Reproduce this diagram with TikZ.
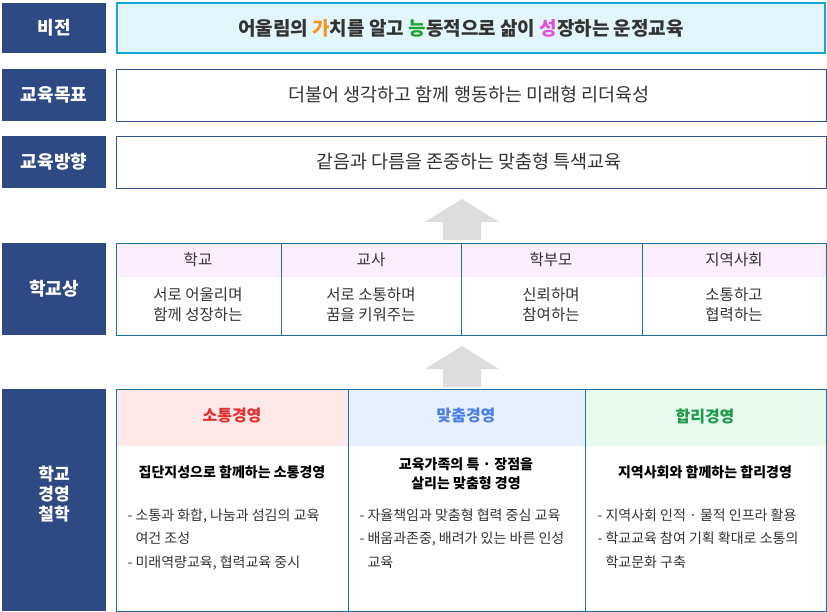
\documentclass[tikz,border=0pt]{standalone}
\usepackage{fontspec}
\setmainfont{Noto Sans CJK KR}
\definecolor{navy}{HTML}{2E4A85}
\definecolor{cyanb}{HTML}{1AA6D8}
\definecolor{cyanf}{HTML}{E4F6FD}
\definecolor{boxb}{HTML}{34508C}
\definecolor{pinkh}{HTML}{FCEEFC}
\definecolor{redh}{HTML}{FDE8E8}
\definecolor{blueh}{HTML}{E8F0FC}
\definecolor{greenh}{HTML}{E8FBEE}
\definecolor{redt}{HTML}{E03030}
\definecolor{bluet}{HTML}{4A7EE8}
\definecolor{greent}{HTML}{1F9A4A}
\definecolor{arr}{HTML}{DDDDDD}
\definecolor{txt}{HTML}{333333}
\definecolor{lineb}{HTML}{1E6FA8}
\begin{document}
\begin{tikzpicture}[x=1pt,y=-1pt,
  lab/.style={fill=navy,text=white,font=\bfseries\fontsize{18}{20}\selectfont,align=center,inner sep=0pt},
  big/.style={font=\fontsize{18.5}{21}\selectfont,text=txt},
  hd/.style={font=\fontsize{15.5}{18}\selectfont,text=txt},
  bd/.style={font=\fontsize{15.5}{20}\selectfont,text=txt,align=center},
  sb/.style={font=\bfseries\fontsize{14}{19}\selectfont,text=black,align=center},
  bl/.style={font=\fontsize{14}{23.5}\selectfont,text=txt,align=left,anchor=north west}]
\useasboundingbox (0,0) rectangle (827,612);
% left labels
\fill[navy] (2,3) rectangle (106,53); \node[lab] (l1) at (54,28) {비전};
\fill[navy] (2,69) rectangle (106,121); \node[lab] (l2) at (54,95) {교육목표};
\fill[navy] (2,136) rectangle (106,188); \node[lab] (l3) at (54,162) {교육방향};
\fill[navy] (2,243) rectangle (106,335); \node[lab] (l4) at (54,289) {학교상};
\fill[navy] (2,389) rectangle (106,611); \node[lab,font=\bfseries\fontsize{17}{20}\selectfont] (l5) at (54,494) {학교\\경영\\철학};
% vision
\draw[cyanb,line width=2pt,fill=cyanf] (117,3) rectangle (825,53);
\node[font=\bfseries\fontsize{19}{21}\selectfont,text=txt] (v) at (461,28) {어울림의 \textcolor[HTML]{F7941D}{가}치를 알고 \textcolor[HTML]{1FA22E}{능}동적으로 삶이 \textcolor[HTML]{E24FE0}{성}장하는 운정교육};
\draw[boxb] (116,69) rectangle (826,121); \node[big] (g) at (469,95) {더불어 생각하고 함께 행동하는 미래형 리더육성};
\draw[boxb] (116,136) rectangle (826,188); \node[big] (d) at (469,162) {같음과 다름을 존중하는 맞춤형 특색교육};
% arrows
\fill[arr] (443,240) -- (443,222) -- (425,222) -- (462,199) -- (499,222) -- (481,222) -- (481,240) -- cycle;
\fill[arr] (443,387) -- (443,369) -- (425,369) -- (462,346) -- (499,369) -- (481,369) -- (481,387) -- cycle;
% school image
\fill[pinkh] (116,243) rectangle (826,277);
\draw[lineb] (116,243) rectangle (826,335);
\foreach \x in {281,461,642} \draw[lineb] (\x,243) -- (\x,335);
\node[hd] (h1) at (198,260) {학교};
\node[hd] (h2) at (371,260) {교사};
\node[hd] (h3) at (551,260) {학부모};
\node[hd] (h4) at (734,260) {지역사회};
\node[bd] (b1) at (198,305) {서로 어울리며\\함께 성장하는};
\node[bd] (b2) at (371,305) {서로 소통하며\\꿈을 키워주는};
\node[bd] (b3) at (551,305) {신뢰하며\\참여하는};
\node[bd] (b4) at (734,305) {소통하고\\협력하는};
% philosophy
\fill[redh] (116,389) rectangle (348,446);
\fill[blueh] (348,389) rectangle (585,446);
\fill[greenh] (585,389) rectangle (826,446);
\draw[lineb] (116,389) rectangle (826,611);
\foreach \x in {348,585} \draw[lineb] (\x,389) -- (\x,611);
\node[font=\bfseries\fontsize{16}{18}\selectfont,text=redt] (p1) at (232,416) {소통경영};
\node[font=\bfseries\fontsize{16}{18}\selectfont,text=bluet] (p2) at (466,416) {맞춤경영};
\node[font=\bfseries\fontsize{16}{18}\selectfont,text=greent] (p3) at (705,416) {합리경영};
\node[sb] (s1) at (232,472) {집단지성으로 함께하는 소통경영};
\node[sb] (s2) at (466,474) {교육가족의 특 · 장점을\\살리는 맞춤형 경영};
\node[sb] (s3) at (705,472) {지역사회와 함께하는 합리경영};
\node[bl] (t1) at (124,505) {- 소통과 화합, 나눔과 섬김의 교육\\\hphantom{- }여건 조성\\- 미래역량교육, 협력교육 중시};
\node[bl] (t2) at (356,505) {- 자율책임과 맞춤형 협력 중심 교육\\- 배움과존중, 배려가 있는 바른 인성\\\hphantom{- }교육};
\node[bl] (t3) at (594,505) {- 지역사회 인적 · 물적 인프라 활용\\- 학교교육 참여 기획 확대로 소통의\\\hphantom{- }학교문화 구축};
\end{tikzpicture}
\end{document}
